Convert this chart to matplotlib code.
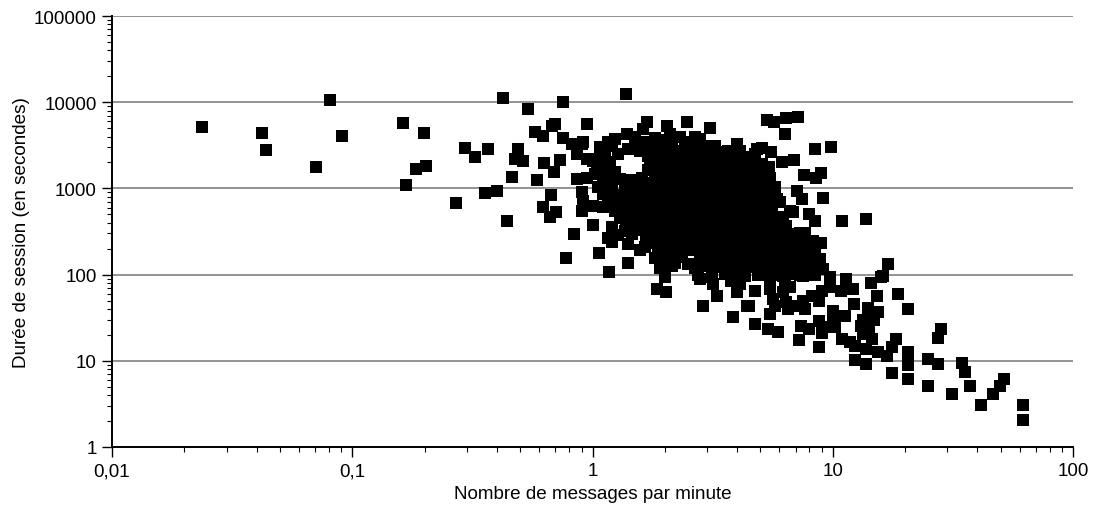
import matplotlib
matplotlib.use("Agg")
import matplotlib.pyplot as plt
from matplotlib.ticker import FixedLocator, FixedFormatter, LogLocator, NullFormatter

plt.rcParams['font.family'] = ['Liberation Sans', 'DejaVu Sans']

# --- sparse points (low rate / high duration) ---
rate_sparse = [0.0237, 0.042, 0.0439, 0.0707, 0.081, 0.091, 0.162, 0.198, 0.203, 0.184, 0.168, 0.27,
               0.426, 0.54, 0.757, 0.946, 0.296, 0.324, 0.368, 0.491, 0.475, 0.512, 0.576, 0.624,
               0.676, 0.70, 0.751, 0.819, 0.90, 0.859, 0.63, 0.732, 0.69, 0.462, 0.589, 0.356, 0.40,
               0.67, 0.62, 0.705, 0.666, 0.44, 0.90, 0.914, 0.90, 1.007, 1.11, 1.007, 0.84, 1.06,
               0.776, 1.16, 1.17, 0.86, 0.946, 1.02, 1.04, 1.11, 1.15, 0.946, 1.007, 1.04, 1.11,
               1.15, 1.16, 0.914,
               1.375, 1.69, 2.05, 2.47, 3.08, 1.39, 1.19, 1.63, 4.82, 3.98, 3.24, 2.10, 2.67]
dur_sparse = [5117, 4395, 2790, 1771, 10600, 4055, 5740, 4395, 1820, 1680, 1096, 678,
              11190, 8340, 10140, 5590, 2940, 2310, 2860, 2860, 2190, 2080, 4550, 4085,
              5340, 5590, 3810, 3270, 3270, 2510, 1970, 2150, 1540, 1345, 1262, 885, 933,
              838, 614, 537, 470, 419, 902, 720, 551, 630, 604, 379, 298, 180,
              155, 264, 107, 1285, 1305, 1470, 1760, 1075, 861, 2190, 2100, 2190, 2190,
              1700, 3430, 3430,
              12450, 5850, 5340, 5940, 4980, 4275, 3270, 4890, 2860, 3270, 3130, 4275, 3920]

# --- dense core ---
rate_core = [1.24, 1.50, 1.65, 1.82, 2.00, 2.31, 2.54, 2.80,
             1.075, 1.21, 1.41, 1.58, 1.73, 1.91, 2.14, 2.43, 2.67, 2.94, 3.23,
             1.13, 1.28, 1.70, 1.88, 2.06, 2.27, 2.54, 2.80, 3.14, 3.45, 3.80, 4.31, 4.74,
             1.05, 1.18, 1.73, 1.95, 2.14, 2.40, 2.67, 2.96, 3.32, 3.66, 4.11, 4.52, 5.07,
             1.075, 1.24, 1.70, 1.88, 2.06, 2.31, 2.54, 2.80, 3.14, 3.45, 3.88, 4.31, 4.74, 5.37,
             1.13, 1.30, 1.46, 1.61, 1.82, 2.00, 2.20, 2.45, 2.69, 2.99, 3.29, 3.66, 4.03, 4.44, 4.88, 5.47,
             1.05, 1.21, 1.37, 1.52, 1.70, 1.91, 2.10, 2.31, 2.59, 2.85, 3.14, 3.49, 3.84, 4.27, 4.70, 5.17, 5.74,
             1.11, 1.28, 1.43, 1.61, 1.79, 1.99, 2.20, 2.45, 2.72, 3.02, 3.32, 3.66, 4.11, 4.52, 4.97, 5.47,
             1.16, 1.33, 1.52, 1.69, 1.88, 2.10, 2.31, 2.54, 2.85, 3.14, 3.52, 3.88, 4.27, 4.74, 5.22, 6.02,
             1.24, 1.41, 1.61, 1.77, 1.97, 2.20, 2.45, 2.69, 2.96, 3.32, 3.73, 4.11, 4.52, 4.97, 5.58, 6.63,
             1.30, 1.49, 1.67, 1.88, 2.06, 2.31, 2.54, 2.80, 3.14, 3.52, 3.91, 4.35, 4.79, 5.37, 5.91,
             1.21, 1.38, 1.58, 1.77, 1.99, 2.18, 2.43, 2.69, 2.99, 3.32, 3.66, 4.11, 4.61, 5.07, 5.69, 6.38,
             1.28, 1.46, 1.67, 1.88, 2.10, 2.31, 2.59, 2.85, 3.17, 3.52, 3.88, 4.31, 4.79, 5.27, 5.91, 6.63, 7.29,
             1.21, 1.41, 1.77, 1.99, 2.20, 2.45, 2.72, 3.02, 3.32, 3.73, 4.11, 4.52, 5.07, 5.58, 6.26, 7.02, 7.87,
             1.58, 1.91, 2.14, 2.36, 2.59, 2.88, 3.20, 3.55, 3.95, 4.35, 4.79, 5.37, 5.91, 6.63, 7.43, 8.42,
             1.41, 1.82, 2.06, 2.27, 2.80, 3.08, 3.39, 3.73, 4.19, 4.61, 5.07, 5.74, 6.38, 7.15, 7.87, 8.83,
             1.91, 2.14, 2.67, 2.94, 3.26, 3.66, 4.03, 4.52, 4.97, 5.47, 6.14, 6.95, 7.72, 8.67,
             2.74, 3.14, 3.55, 3.91, 4.31, 4.88, 5.47, 6.02, 6.76, 7.50, 8.42, 9.72]
dur_core = [3700, 3900, 3500, 3800, 3600, 3900, 3500, 3700,
            3000, 3100, 2900, 3100, 3000, 2900, 3100, 3000, 2900, 3100, 3000,
            2400, 2500, 2350, 2450, 2500, 2400, 2450, 2350, 2500, 2450, 2400, 2300, 2500,
            1950, 2000, 1900, 2050, 1950, 1900, 2000, 1950, 2050, 1900, 2000, 1950, 1900,
            1600, 1550, 1620, 1580, 1600, 1550, 1620, 1600, 1560, 1600, 1620, 1580, 1600, 1560,
            1280, 1300, 1250, 1320, 1290, 1270, 1300, 1280, 1310, 1260, 1300, 1290, 1270, 1300, 1280, 1310,
            1050, 1020, 1060, 1030, 1040, 1010, 1060, 1040, 1020, 1050, 1030, 1060, 1040, 1020, 1050, 1030, 1040,
            850, 830, 845, 820, 860, 835, 850, 825, 845, 860, 830, 850, 840, 825, 855, 840,
            690, 670, 685, 660, 680, 695, 670, 685, 665, 690, 675, 680, 665, 690, 670, 700,
            545, 560, 540, 555, 550, 535, 560, 545, 555, 540, 550, 560, 545, 555, 540, 540,
            450, 435, 445, 430, 450, 440, 455, 435, 445, 450, 430, 445, 440, 450, 435,
            355, 365, 350, 360, 370, 355, 360, 350, 365, 355, 360, 370, 350, 360, 355, 365,
            285, 295, 280, 290, 300, 285, 290, 280, 295, 290, 285, 300, 290, 280, 295, 290, 300,
            240, 225, 235, 230, 238, 228, 235, 240, 230, 225, 235, 240, 230, 235, 228, 240, 232,
            195, 180, 190, 185, 195, 188, 182, 192, 185, 190, 180, 195, 188, 185, 192, 180,
            135, 155, 148, 158, 150, 145, 155, 152, 148, 158, 150, 145, 155, 150, 148, 152,
            120, 125, 118, 126, 122, 120, 128, 124, 118, 126, 120, 125, 122, 118,
            100, 95, 102, 98, 96, 100, 95, 98, 102, 97, 100, 95]

# --- dense core, in-between sessions ---
rate_fill = [1.58, 1.79, 1.97, 2.16, 2.40, 2.67, 2.96, 3.29, 3.66, 4.11,
             1.82, 1.99, 2.18, 2.43, 2.67, 2.96, 3.29, 3.66, 4.11, 4.52, 4.97,
             1.21, 1.38, 1.54, 1.70, 1.91, 2.10, 2.31, 2.56, 2.85, 3.14, 3.45, 3.84, 4.23, 4.65, 5.12,
             1.18, 1.35, 1.52, 1.70, 1.89, 2.10, 2.31, 2.56, 2.85, 3.17, 3.49, 3.88, 4.31, 4.74, 5.22,
             1.33, 1.52, 1.70, 1.91, 2.10, 2.33, 2.59, 2.85, 3.17, 3.52, 3.91, 4.31, 4.79, 5.32,
             1.37, 1.54, 1.73, 1.95, 2.16, 2.40, 2.67, 2.96, 3.29, 3.66, 4.11, 4.52, 4.97, 5.58, 6.26,
             1.65, 1.88, 2.10, 2.33, 2.59, 2.88, 3.20, 3.55, 3.95, 4.39, 4.88, 5.47, 6.14, 6.89,
             1.95, 2.20, 2.49, 2.94, 3.26, 3.66, 4.11, 4.61, 5.17, 5.80, 6.63]
dur_fill = [2700, 2650, 2750, 2700, 2680, 2760, 2700, 2650, 2720, 2700,
            1770, 1740, 1800, 1760, 1790, 1750, 1780, 1770, 1740, 1800, 1760,
            1150, 1170, 1140, 1160, 1150, 1180, 1140, 1160, 1150, 1170, 1140, 1160, 1150, 1170, 1145,
            750, 760, 745, 770, 750, 740, 760, 755, 745, 765, 750, 760, 745, 755, 765,
            490, 495, 485, 500, 490, 480, 495, 490, 500, 485, 495, 490, 480, 495,
            320, 325, 315, 320, 330, 318, 322, 315, 325, 320, 330, 315, 322, 325, 318,
            210, 205, 212, 208, 215, 205, 210, 212, 206, 210, 215, 205, 210, 208,
            136, 138, 134, 140, 135, 137, 133, 138, 136, 134, 138]

# --- right side of the cloud ---
rate_right = [5.34, 5.7, 6.36, 7.16, 6.33, 5.10, 5.52, 6.16, 6.91, 8.45, 9.87, 5.43, 5.34, 4.67,
              7.61, 8.5, 8.9, 7.07, 7.45, 9.14, 5.13, 5.88, 6.84, 7.96, 8.45, 10.9, 13.8, 6.22,
              7.13, 7.67, 8.3, 8.9, 7.79, 8.81, 9.1, 6.22, 6.75, 7.33, 5.94, 5.6, 17.0, 16.2,
              11.4, 6.2, 7.3]
dur_right = [6270, 5940, 6560, 6790, 4275, 2920, 2670, 2040, 2150, 2860, 3020, 1757, 1442, 1404,
             1430, 1320, 1497, 925, 753, 774, 861, 753, 537, 505, 419, 419, 442, 462,
             296, 304, 247, 231, 181, 152, 116, 173, 166, 127, 133, 152, 133, 97,
             89, 97, 100]

# --- lower tail (short sessions) ---
rate_tail = [1.85, 2.02, 2.0, 2.88, 3.3, 2.8, 3.18, 3.76, 3.98, 4.38, 3.85, 4.1,
             15.9, 14.4, 18.6, 15.3, 20.6, 15.5, 14.0, 14.9, 13.3, 12.3, 11.4, 12.1, 10.8,
             9.75, 9.0, 8.2, 7.5, 7.2, 7.7, 8.8, 10.0, 11.2, 10.0, 10.2, 8.8, 7.4, 8.0, 9.0,
             9.3, 7.25, 8.8, 10.9, 11.8, 12.4, 13.4, 14.2, 14.5, 13.1, 13.7, 15.5, 16.9, 17.6,
             18.3, 12.4, 13.8, 17.7, 20.6, 20.6, 20.6, 20.6, 4.74, 4.5, 5.5, 5.66, 5.75, 5.5,
             4.74, 5.4, 5.94, 6.22, 6.33, 6.63, 6.5, 6.4,
             28.1, 27.5, 24.8, 27.5, 34.4, 35.5, 37.3, 31.3, 25.0, 41.6, 46.5, 49.6, 51.5,
             62.2, 62.2]
dur_tail = [68, 62, 93, 42.9, 57, 89, 77.8, 85, 62, 43.6, 32, 77.8,
            94.6, 79, 59.6, 56, 40, 37, 40.6, 29.7, 29.7, 45.2, 82.8, 68, 65,
            71, 65, 57, 50, 43.6, 40, 50, 38, 33, 30.5, 24.5, 29, 25, 23.4, 20.8,
            24.5, 17.6, 14.6, 17.9, 16.4, 15, 20.5, 21.4, 17.9, 25.5, 13.7, 12.5, 11.3, 14.4,
            17.9, 10.2, 9.2, 7.2, 12.5, 10.5, 8.9, 6.15, 65, 43.6, 68, 52, 43.6, 35,
            26.7, 23.4, 21.8, 62, 81.5, 71, 40, 47.7,
            23.4, 18.4, 10.4, 9.2, 9.4, 7.35, 5.14, 4.12, 5.14, 3.1, 4.12, 5.14, 6.15,
            3.1, 2.06]

x_ticks = [0.01, 0.1, 1, 10, 100]
x_labels = ["0,01", "0,1", "1", "10", "100"]
y_ticks = [1, 10, 100, 1000, 10000, 100000]
y_labels = ["1", "10", "100", "1000", "10000", "100000"]

fig = plt.figure(figsize=(10.99, 5.10), dpi=100)
ax = fig.add_axes([112/1099, 62/510, 961/1099, 431/510])

for rx, dy in [(rate_sparse, dur_sparse), (rate_core, dur_core), (rate_fill, dur_fill),
               (rate_right, dur_right), (rate_tail, dur_tail)]:
    ax.scatter(rx, dy, marker='s', s=63, c='black', linewidths=0, zorder=3)

ax.set_xscale('log')
ax.set_yscale('log')
ax.set_xlim(0.01, 100)
ax.set_ylim(1, 100000)

ax.xaxis.set_major_locator(FixedLocator(x_ticks))
ax.xaxis.set_major_formatter(FixedFormatter(x_labels))
ax.yaxis.set_major_locator(FixedLocator(y_ticks))
ax.yaxis.set_major_formatter(FixedFormatter(y_labels))
ax.xaxis.set_minor_locator(LogLocator(base=10, subs=range(2, 10), numticks=20))
ax.yaxis.set_minor_locator(LogLocator(base=10, subs=range(2, 10), numticks=20))
ax.xaxis.set_minor_formatter(NullFormatter())
ax.yaxis.set_minor_formatter(NullFormatter())

ax.tick_params(axis='both', which='major', direction='out', length=7, width=1, labelsize=13.6,
               color='black', pad=4)
ax.tick_params(axis='both', which='minor', direction='out', length=3.5, width=0.8, color='black')

ax.grid(True, axis='y', which='major', color='#808080', linewidth=1.2, zorder=0)
ax.set_axisbelow(True)

for side in ['top', 'right']:
    ax.spines[side].set_visible(False)
for side in ['left', 'bottom']:
    ax.spines[side].set_linewidth(1.4)
    ax.spines[side].set_color('black')
    ax.spines[side].set_zorder(4)

ax.set_xlabel("Nombre de messages par minute", fontsize=13.6, labelpad=4)
ax.set_ylabel("Durée de session (en secondes)", fontsize=13.6, labelpad=3)

fig.savefig("out.png", dpi=100)
